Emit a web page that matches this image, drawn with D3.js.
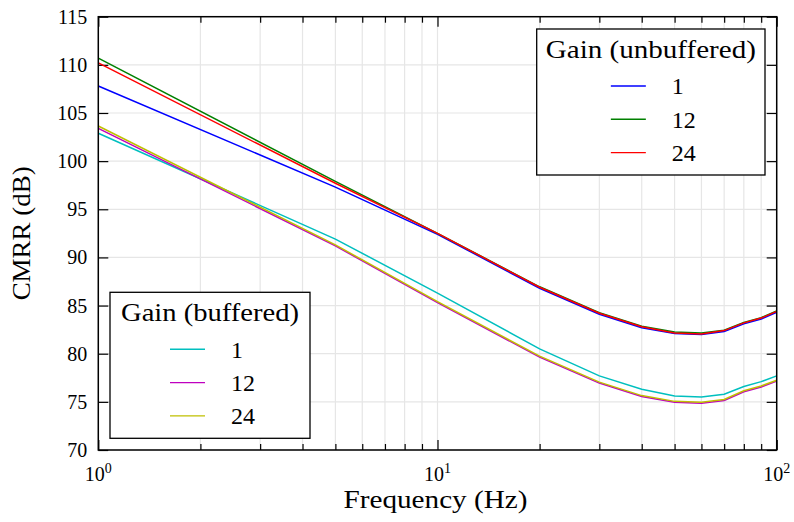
<!DOCTYPE html>
<html>
<head>
<meta charset="utf-8">
<script src="https://cdn.jsdelivr.net/npm/d3@7"></script>
<style>
  body { margin: 0; background: #fff; }
</style>
</head>
<body>
<svg id="chart" width="794" height="522" font-family="'Liberation Serif', 'DejaVu Serif', serif"></svg>
<script>
// values
var freqs   = [1, 5, 10, 20, 30, 40, 50, 60, 70, 80, 90, 100];
var unbuf1  = [107.8, 97.3, 92.4, 86.8, 84.1, 82.7, 82.1, 82.0, 82.3, 83.1, 83.6, 84.3];
var unbuf12 = [110.7, 97.9, 92.5, 86.95, 84.25, 82.85, 82.25, 82.15, 82.45, 83.25, 83.75, 84.45];
var unbuf24 = [110.2, 97.7, 92.5, 86.9, 84.2, 82.8, 82.15, 82.05, 82.4, 83.2, 83.7, 84.4];
var buf1    = [102.9, 91.9, 86.3, 80.5, 77.7, 76.3, 75.6, 75.5, 75.8, 76.6, 77.1, 77.7];
var buf12   = [103.4, 91.2, 85.3, 79.65, 76.95, 75.55, 74.95, 74.85, 75.15, 76.05, 76.55, 77.15];
var buf24   = [103.65, 91.3, 85.4, 79.75, 77.05, 75.65, 75.05, 74.95, 75.25, 76.15, 76.65, 77.25];
var gains   = ["1", "12", "24"];
var yTicks  = [70, 75, 80, 85, 90, 95, 100, 105, 110, 115];
var xMajor  = [1, 10, 100];
var xExp    = ["0", "1", "2"];
var xMinor  = [2, 3, 4, 5, 6, 7, 8, 9, 20, 30, 40, 50, 60, 70, 80, 90];

var margin = {top: 16.7, right: 17.3, bottom: 72, left: 98.3}
  , width = 794 - margin.left - margin.right
  , height = 522 - margin.top - margin.bottom;

var unbufColors = ["#0000ff", "#008000", "#ff0000"];
var bufColors = ["#00bfbf", "#bf00bf", "#bfbf00"];

var xScale = d3.scaleLog().domain([1, 100]).range([0, width]);
var yScale = d3.scaleLinear().domain([70, 115]).range([height, 0]);

var svg = d3.select("#chart")
    .append("g")
    .attr("transform", "translate(" + margin.left + "," + margin.top + ")");

// grid
svg.selectAll(".gx")
    .data(xMinor.concat(xMajor))
    .enter().append("line")
    .attr("x1", function(d) { return xScale(d); })
    .attr("x2", function(d) { return xScale(d); })
    .attr("y1", 0).attr("y2", height)
    .attr("stroke", "#e6e6e6").attr("stroke-width", 1.2);

svg.selectAll(".gy")
    .data(yTicks)
    .enter().append("line")
    .attr("x1", 0).attr("x2", width)
    .attr("y1", function(d) { return yScale(d); })
    .attr("y2", function(d) { return yScale(d); })
    .attr("stroke", "#e6e6e6").attr("stroke-width", 1.2);

// axes: ticks pointing inward on all four sides
function tickAxis(axis, size) {
    return axis.tickSizeInner(size).tickSizeOuter(0).tickFormat("");
}
var axBottom = svg.append("g").attr("transform", "translate(0," + height + ")");
axBottom.append("g").call(tickAxis(d3.axisTop(xScale).tickValues(xMinor), 6));
axBottom.append("g").call(tickAxis(d3.axisTop(xScale).tickValues(xMajor), 10));
var axTop = svg.append("g");
axTop.append("g").call(tickAxis(d3.axisBottom(xScale).tickValues(xMinor), 6));
axTop.append("g").call(tickAxis(d3.axisBottom(xScale).tickValues(xMajor), 10));
svg.append("g").call(tickAxis(d3.axisRight(yScale).tickValues(yTicks), 10));
svg.append("g").attr("transform", "translate(" + width + ",0)")
    .call(tickAxis(d3.axisLeft(yScale).tickValues(yTicks), 10));
svg.selectAll(".domain").remove();
svg.selectAll(".tick line").attr("stroke", "#000").attr("stroke-width", 1.2);

// tick labels
svg.selectAll(".ylab")
    .data(yTicks)
    .enter().append("text")
    .attr("x", -11)
    .attr("y", function(d) { return yScale(d); })
    .attr("dy", "0.35em")
    .attr("text-anchor", "end")
    .attr("font-size", 20)
    .text(function(d) { return d; });

var xl = svg.selectAll(".xlab")
    .data(xMajor)
    .enter().append("text")
    .attr("x", function(d) { return xScale(d); })
    .attr("y", height + 31)
    .attr("text-anchor", "middle")
    .attr("font-size", 20);
xl.append("tspan").text("10");
xl.append("tspan").attr("dy", -8).attr("font-size", 14)
    .text(function(d, i) { return xExp[i]; });

// axis titles
svg.append("text")
    .attr("x", width / 2 - 2)
    .attr("y", height + 58)
    .attr("text-anchor", "middle")
    .attr("font-size", 25)
    .attr("textLength", 184)
    .attr("lengthAdjust", "spacingAndGlyphs")
    .text("Frequency (Hz)");

svg.append("text")
    .attr("transform", "translate(" + (-68) + "," + (height / 2) + ") rotate(-90)")
    .attr("text-anchor", "middle")
    .attr("font-size", 25)
    .attr("textLength", 134)
    .attr("lengthAdjust", "spacingAndGlyphs")
    .text("CMRR (dB)");

// lines
var line = d3.line()
    .x(function(d, i) { return xScale(freqs[i]); })
    .y(function(d) { return yScale(d); });

var plot = svg.append("g");
[unbuf1, unbuf12, unbuf24].forEach(function(s, i) {
    plot.append("path").datum(s)
        .attr("d", line).attr("fill", "none")
        .attr("stroke", unbufColors[i]).attr("stroke-width", 1.5);
});
[buf1, buf12, buf24].forEach(function(s, i) {
    plot.append("path").datum(s)
        .attr("d", line).attr("fill", "none")
        .attr("stroke", bufColors[i]).attr("stroke-width", 1.5);
});

// frame
svg.append("rect")
    .attr("width", width).attr("height", height)
    .attr("fill", "none").attr("stroke", "#000").attr("stroke-width", 1.5);

// legends
function legend(x, y, w, h, title, titleLen, colors) {
    var g = svg.append("g").attr("transform", "translate(" + x + "," + y + ")");
    g.append("rect").attr("width", w).attr("height", h)
        .attr("fill", "#fff").attr("stroke", "#000").attr("stroke-width", 1.3);
    g.append("text")
        .attr("x", w / 2).attr("y", 29)
        .attr("text-anchor", "middle").attr("font-size", 25)
        .attr("textLength", titleLen).attr("lengthAdjust", "spacingAndGlyphs")
        .text(title);
    gains.forEach(function(lab, i) {
        var cy = 57 + i * 33.3;
        g.append("line")
            .attr("x1", w / 2 - 40).attr("x2", w / 2 - 5)
            .attr("y1", cy).attr("y2", cy)
            .attr("stroke", colors[i]).attr("stroke-width", 1.4);
        g.append("text")
            .attr("x", w / 2 + 21).attr("y", cy).attr("dy", "0.35em")
            .attr("font-size", 24)
            .text(lab);
    });
}
legend(536.7 - margin.left, 29 - margin.top, 228.3, 146, "Gain (unbuffered)", 210, unbufColors);
legend(110 - margin.left, 292.3 - margin.top, 200, 146, "Gain (buffered)", 178, bufColors);
</script>
</body>
</html>
